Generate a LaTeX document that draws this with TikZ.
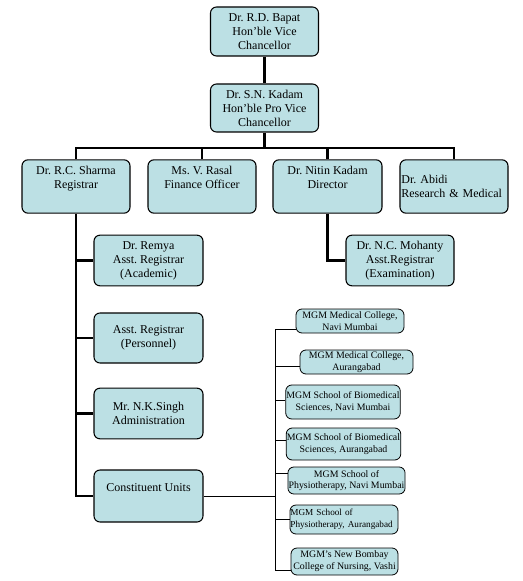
\documentclass[tikz,border=0pt]{standalone}
\usepackage{fontspec}
\setmainfont{Liberation Serif}
\usepackage{tikz}
\usetikzlibrary{calc}
\frenchspacing
\definecolor{boxfill}{RGB}{188,224,228}
\tikzset{post/.style={shape=rectangle, rounded corners=4.5pt, draw, fill=boxfill,
    line width=0.8pt, align=center, inner sep=1pt, minimum width=81pt,
    minimum height=38pt, font=\fontsize{9}{10.5}\selectfont}}
\tikzset{unit/.style={post, line width=0.6pt, inner sep=0.5pt,
    minimum height=18pt, font=\fontsize{7.4}{8.8}\selectfont}}
\tikzset{raised/.style={text depth=13pt}}
\tikzset{trunk/.style={line width=2pt}}
\tikzset{feed/.style={line width=0.75pt}}

\begin{document}
\begin{tikzpicture}[x=0.75pt, y=-0.75pt]
  \useasboundingbox (0,0) rectangle (522,581);
      %%%% top of the chart
      \node[post, minimum height=36.75pt] (bapat) at (264.5,31.5)
        {Dr. R.D. Bapat\\Hon'ble Vice\\Chancellor};
      \node[post, minimum height=36pt] (kadam) at (264.5,108)
        {Dr. S.N. Kadam\\Hon'ble Pro Vice\\Chancellor};
      %%%% second row
      \node[post, raised, minimum height=40pt] (sharma) at (76,186.5)
        {Dr. R.C. Sharma\\Registrar};
      \node[post, raised, minimum height=40pt] (rasal) at (202,186.5)
        {Ms. V. Rasal\\Finance Officer};
      \node[post, raised, minimum height=40pt, minimum width=81.75pt] (nitin) at (327.5,186.5)
        {Dr. Nitin Kadam\\Director};
      \node[post, minimum height=40pt, text width=79pt, align=left] (abidi) at (454,186.5)
        {Dr. Abidi\\Research \& Medical};
      %%%% under the registrar
      \node[post, minimum width=81.75pt] (remya) at (148.5,260.5)
        {Dr. Remya\\Asst. Registrar\\(Academic)};
      \node[post, minimum width=81.75pt, minimum height=37.5pt] (personnel) at (148.5,338)
        {Asst. Registrar\\(Personnel)};
      \node[post, minimum width=81.75pt] (singh) at (148.5,413.5)
        {Mr. N.K.Singh\\Administration};
      \node[post, raised, minimum width=81.75pt, minimum height=39pt] (units) at (148.5,496)
        {Constituent Units};
      %%%% under the director
      \node[post, minimum width=81pt] (mohanty) at (400,260.5)
        {Dr. N.C. Mohanty\\Asst.Registrar\\(Examination)};
      %%%% constituent units
      \node[unit, minimum width=81pt] (navimed) at (350,321)
        {MGM Medical College,\\Navi Mumbai};
      \node[unit, minimum width=84.75pt] (aurmed) at (356.5,362)
        {MGM Medical College,\\Aurangabad};
      \node[unit, minimum width=79.5pt, minimum height=25.5pt] (navibio) at (343,402)
        {MGM School of Biomedical\\Sciences, Navi Mumbai};
      \node[unit, minimum width=80.25pt, minimum height=24pt] (aurbio) at (343.5,444)
        {MGM School of Biomedical\\Sciences, Aurangabad};
      \node[unit, minimum width=84.75pt, minimum height=20.25pt] (naviphy) at (346.5,480.5)
        {MGM School of\\Physiotherapy, Navi Mumbai};
      \node[unit, minimum width=81pt, minimum height=21.75pt, text width=80.4pt,
        inner xsep=0.3pt, align=left, font=\fontsize{6.9}{8.8}\selectfont] (aurphy) at (344,519.5)
        {MGM School of\\\mbox{Physiotherapy, Aurangabad}};
      \node[unit, minimum width=80.25pt, minimum height=20.25pt] (nursing) at (344.5,561.5)
        {MGM's New Bombay\\College of Nursing, Vashi};
      %%%% thick lines
      \coordinate (bus) at (264.5,148);
      \draw[trunk] (bapat) -- (kadam);
      \draw[trunk] (kadam) -- (bus);
      \draw[trunk] (sharma.north) |- (bus) -| (abidi.north);
      \draw[trunk] (rasal.north) -- (rasal.north |- bus);
      \draw[trunk] (nitin.north) -- (nitin.north |- bus);
      \draw[trunk] (sharma.south) |- (units.west);
      \draw[trunk] (sharma.south |- remya.west) -- (remya.west);
      \draw[trunk] (sharma.south |- personnel.west) -- (personnel.west);
      \draw[trunk] (sharma.south |- singh.west) -- (singh.west);
      \draw[trunk] (nitin.south) |- (mohanty.west);
      %%%% thin lines to the units
      \coordinate (s1) at (275,329);
      \coordinate (s2) at (275,366);
      \coordinate (s3) at (275,400);
      \coordinate (s4) at (275,440);
      \coordinate (s5) at (275,473);
      \coordinate (s6) at (275,519);
      \coordinate (s7) at (275,570);
      \draw[feed] (s1) -- (s7);
      \draw[feed] (units.east) -- (units.east -| s1);
      \draw[feed] (s1) -- (s1 -| navimed.west);
      \draw[feed] (s2) -- (s2 -| aurmed.west);
      \draw[feed] (s3) -- (s3 -| navibio.west);
      \draw[feed] (s4) -- (s4 -| aurbio.west);
      \draw[feed] (s5) -- (s5 -| naviphy.west);
      \draw[feed] (s6) -- (s6 -| aurphy.west);
      \draw[feed] (s7) -- (s7 -| nursing.west);
  \end{tikzpicture}
\end{document}
